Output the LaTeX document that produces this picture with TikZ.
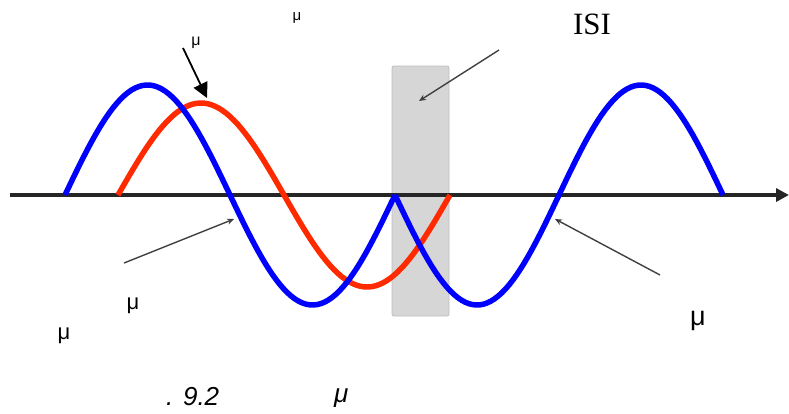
\documentclass[tikz,border=0pt]{standalone}
\usepackage{fontspec}
\setmainfont{Liberation Sans}
\newfontfamily\isifont{Liberation Serif}
\usepackage{tikz}
\usetikzlibrary{positioning,arrows.meta,calc,backgrounds}
\definecolor{wblue}{RGB}{0,0,255}
\definecolor{wred}{RGB}{255,42,0}
\tikzset{
  >={Stealth[length=2.2mm]},
  axisln/.style={line width=4.5pt,black!85,-{Triangle[length=13pt,width=13pt]}},
  wave/.style={line width=5.5pt,line join=round},
  isibox/.style={draw=black!25,fill=black!16,line width=0.8pt,rounded corners=2pt},
  ptr/.style={-{Stealth[length=7pt,width=6pt]},line width=1.4pt,black!75},
  bigptr/.style={-{Triangle[length=15pt,width=15pt]},line width=1.8pt,black},
  mulbl/.style={inner sep=0pt,font=\fontsize{#1}{#1}\selectfont},
  isilbl/.style={inner sep=0pt,font=\isifont\fontsize{31}{31}\selectfont},
  caplbl/.style={inner sep=0pt,font=\itshape\fontsize{26}{26}\selectfont},
}
\begin{document}
\begin{tikzpicture}[x=1pt,y=-1pt]
  \useasboundingbox (0,0) rectangle (789,413);
  % ISI window
  \draw[isibox] (392,66) rectangle (449,316);
  \coordinate (ax0) at (10,195);
  \coordinate (ax1) at (789,195);
  \draw[axisln] (ax0) -- (ax1);
  % delayed path and direct path
  \draw[wave,wred] plot[domain=118:450,samples=90]
    (\x,{195-92*sin((\x-118)/166*180)});
  \draw[wave,wblue] plot[domain=65:395,samples=90]
    (\x,{195-110*sin((\x-65)/165*180)});
  \draw[wave,wblue] plot[domain=395:723,samples=90]
    (\x,{195+110*sin((\x-395)/164*180)});
  % labels
  \node[mulbl=15] (mutop) at (297,18) {μ};
  \node[mulbl=16] (mudel) at (196,43) {μ};
  \node[isilbl] (isi) at (592,24) {ISI};
  \node[mulbl=22] (mua) at (133,306) {μ};
  \node[mulbl=22] (mub) at (64,336) {μ};
  \node[mulbl=27] (muc) at (698,321) {μ};
  \node[caplbl,anchor=base west] (fig) at (166,405) {. 9.2};
  \node[caplbl,anchor=base west] (figmu) at (334,402) {μ};
  % pointers
  \coordinate (dA) at (183,48);
  \coordinate (dB) at (207,98);
  \coordinate (iA) at (499,50);
  \coordinate (iB) at (419,101);
  \coordinate (lA) at (124,263);
  \coordinate (lB) at (234,219);
  \coordinate (rA) at (660,275);
  \coordinate (rB) at (555,219);
  \draw[bigptr] (dA) -- (dB);
  \draw[ptr] (iA) -- (iB);
  \draw[ptr] (lA) -- (lB);
  \draw[ptr] (rA) -- (rB);
\end{tikzpicture}
\end{document}
